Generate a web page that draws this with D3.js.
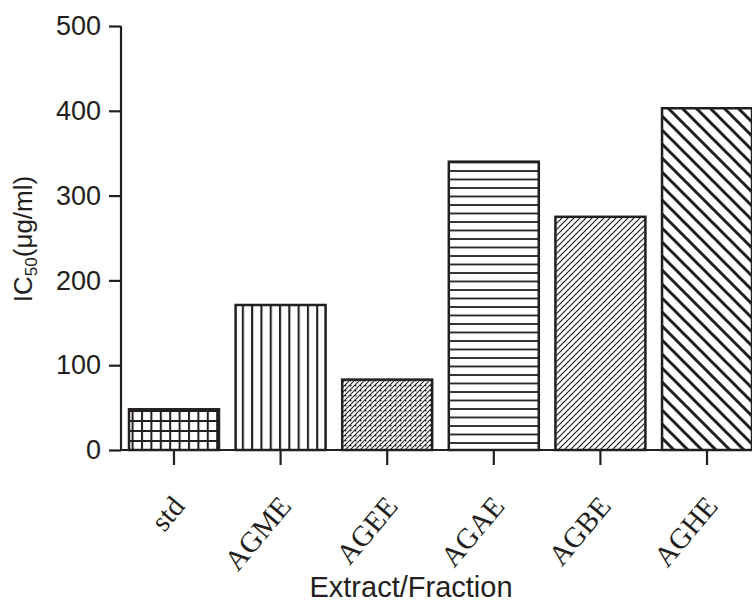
<!DOCTYPE html>
<html>
<head>
<meta charset="utf-8">
<script src="https://cdn.jsdelivr.net/npm/d3@7"></script>
<style>
  body { margin: 0; background: #fff; }
  svg { display: block; }
</style>
</head>
<body>
<svg id="chart"></svg>
<script>
// Chart data
const categories = ['std', 'AGME', 'AGEE', 'AGAE', 'AGBE', 'AGHE'];
const values = [48, 171, 83, 340, 275, 403];
const yTicks = [0, 100, 200, 300, 400, 500];
const patterns = ['grid', 'vlines', 'fine', 'hlines', 'diagFine', 'diagWide'];

const width = 752;
const height = 602;
const ink = '#231f20';

const svg = d3.select('#chart')
    .attr('width', width)
    .attr('height', height);

// Fill patterns
const defs = svg.append('defs');

function addPattern(id, w, h, draw) {
    const p = defs.append('pattern')
        .attr('id', id)
        .attr('patternUnits', 'userSpaceOnUse')
        .attr('width', w)
        .attr('height', h);
    p.append('rect').attr('width', w).attr('height', h).attr('fill', '#fff');
    draw(p);
}

addPattern('grid', 9.4, 10, p => {
    p.append('path').attr('d', 'M1,0V10M0,1H9.4').attr('stroke', ink).attr('stroke-width', 2);
});
addPattern('vlines', 9.3, 10, p => {
    p.append('path').attr('d', 'M1,0V10').attr('stroke', ink).attr('stroke-width', 2.2);
});
addPattern('fine', 5, 5, p => {
    p.append('path').attr('d', 'M0,5L5,0M-1,1L1,-1M4,6L6,4').attr('stroke', ink).attr('stroke-width', 1.1);
    p.append('rect').attr('x', 0).attr('y', 0).attr('width', 1.4).attr('height', 1.4).attr('fill', ink);
});
addPattern('hlines', 10, 8.5, p => {
    p.append('path').attr('d', 'M0,1H10').attr('stroke', ink).attr('stroke-width', 1.8);
});
addPattern('diagFine', 6, 6, p => {
    p.append('path').attr('d', 'M0,6L6,0M-1,1L1,-1M5,7L7,5').attr('stroke', ink).attr('stroke-width', 1.2);
});
addPattern('diagWide', 14, 14, p => {
    p.append('path').attr('d', 'M0,0L14,14M-2,12L2,16M12,-2L16,2').attr('stroke', ink).attr('stroke-width', 3);
});

// Scales
const x = d3.scaleBand()
    .domain(categories)
    .range([121, 760])
    .paddingInner(0.156)
    .paddingOuter(0.075);

const y = d3.scaleLinear()
    .domain([0, 500])
    .range([450, 26]);

// Bars
svg.append('g')
    .selectAll('rect')
    .data(categories)
    .enter()
    .append('rect')
    .attr('x', d => x(d))
    .attr('y', (d, i) => y(values[i]))
    .attr('width', x.bandwidth())
    .attr('height', (d, i) => y(0) - y(values[i]))
    .attr('fill', (d, i) => 'url(#' + patterns[i] + ')')
    .attr('stroke', ink)
    .attr('stroke-width', 2.5);

// Y axis
const yAxis = svg.append('g')
    .attr('transform', 'translate(121,0)')
    .call(d3.axisLeft(y).tickValues(yTicks).tickSize(12).tickPadding(8).tickFormat(d3.format('d')));
yAxis.select('.domain').attr('stroke', ink).attr('stroke-width', 2.2).attr('d', 'M0,' + y(0) + 'V' + y(500));
yAxis.selectAll('.tick line').attr('stroke', ink).attr('stroke-width', 2.2);
yAxis.selectAll('.tick text')
    .attr('fill', ink)
    .style('font-family', 'Liberation Sans, Arial, sans-serif')
    .style('font-size', '27px');

// X axis
const xAxis = svg.append('g')
    .attr('transform', 'translate(0,' + y(0) + ')')
    .call(d3.axisBottom(x).tickSize(15).tickFormat(''));
xAxis.select('.domain').attr('stroke', ink).attr('stroke-width', 2.2).attr('d', 'M121,0H' + width);
xAxis.selectAll('.tick line').attr('stroke', ink).attr('stroke-width', 2.2);

xAxis.selectAll('.tick')
    .append('text')
    .attr('transform', 'translate(12,57) rotate(-50)')
    .attr('text-anchor', 'end')
    .attr('fill', ink)
    .style('font-family', 'Liberation Serif, Times New Roman, serif')
    .style('font-size', '29px')
    .text(d => d);

// Axis titles
svg.append('text')
    .attr('x', 411)
    .attr('y', 597)
    .attr('text-anchor', 'middle')
    .attr('fill', ink)
    .style('font-family', 'Liberation Sans, Arial, sans-serif')
    .style('font-size', '29px')
    .text('Extract/Fraction');

const yTitle = svg.append('text')
    .attr('transform', 'translate(32,239) rotate(-90)')
    .attr('text-anchor', 'middle')
    .attr('fill', ink)
    .style('font-family', 'Liberation Sans, Arial, sans-serif')
    .style('font-size', '26px');
yTitle.append('tspan').text('IC');
yTitle.append('tspan').attr('dy', 5).style('font-size', '17px').text('50');
yTitle.append('tspan').attr('dy', -5).text('(μg/ml)');
</script>
</body>
</html>
